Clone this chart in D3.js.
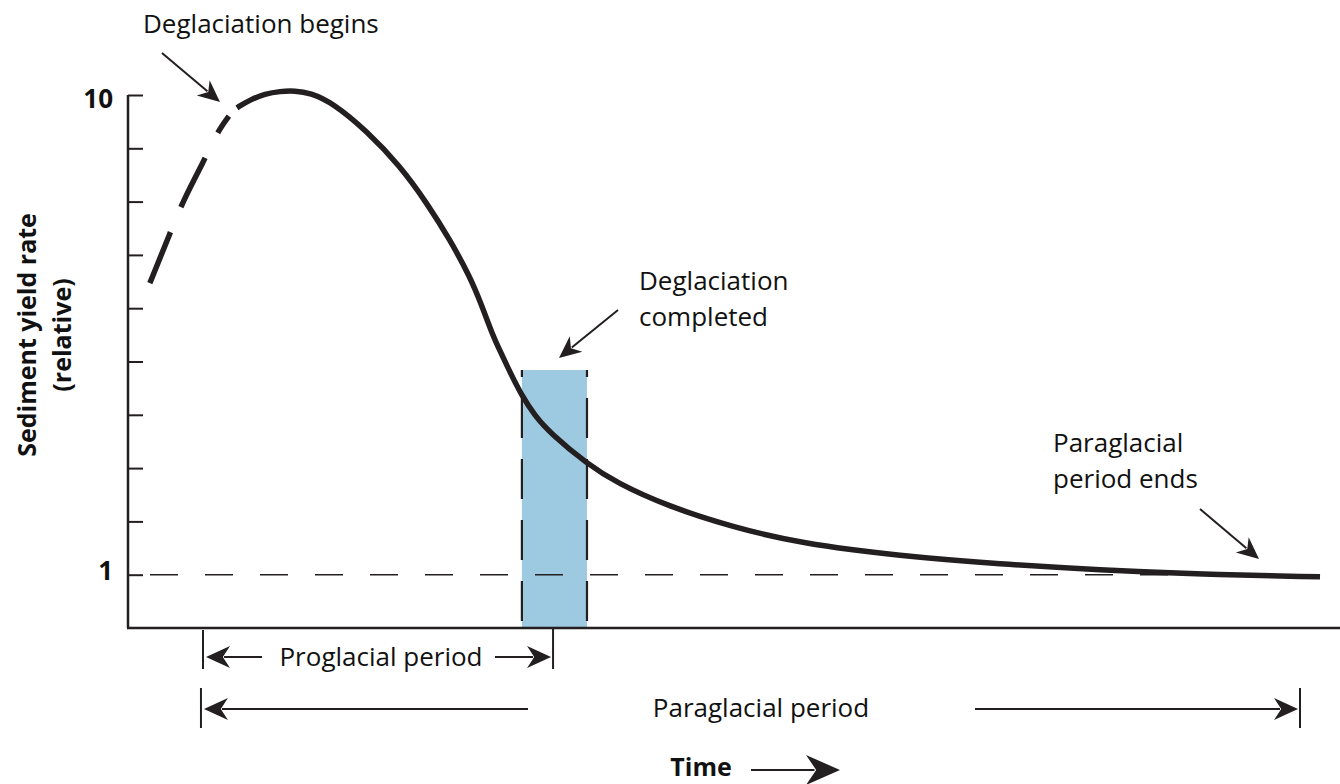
<!DOCTYPE html>
<html lang="en">
<head>
<meta charset="UTF-8">
<title>Paraglacial sediment yield</title>
<script src="https://d3js.org/d3.v7.min.js"></script>
<style>
  body { margin: 0; background: #fff; }
  svg { display: block; }
  text { font-family: "Open Sans", sans-serif; fill: #111; }
  .bold { font-weight: bold; }
</style>
</head>
<body>
<svg id="chart" width="1340" height="784"></svg>
<script>
// time in relative units (0-100), sediment yield rate (relative, 1 = background)
var riseTime  = [1.8, 3.05, 4.46, 5.53, 6.52, 7.51, 8.58];
var riseYield = [6.47, 7.17, 7.97, 8.44, 8.89, 9.36, 9.68];

var curveTime  = [8.99, 10.07, 11.3, 12.54, 13.78, 15.02, 16.91, 19.72, 22.44, 24.67, 26.57, 28.22, 29.21, 30.03, 30.69, 31.52, 32.51, 33.58, 34.82, 37.87, 40.35, 44.47, 49.92, 55.45, 63.7, 71.95, 80.2, 88.45, 98.35];
var curveYield = [9.76, 9.91, 10.02, 10.07, 10.08, 10.04, 9.85, 9.32, 8.67, 7.97, 7.28, 6.59, 6.04, 5.53, 5.2, 4.8, 4.35, 3.98, 3.66, 3.08, 2.72, 2.29, 1.89, 1.59, 1.35, 1.2, 1.09, 1.01, 0.96];

var yTicks = [1, 2, 3, 4, 5, 6, 7, 8, 9, 10];
var yTickLabels = [1, 10];
var baseline = 1;

var deglacWindow = [32.5, 37.87];   // deglaciation completed
var deglacTop = 4.84;
var proglacialSpan = [6.19, 35.07];
var paraglacialSpan = [6.02, 96.7];

var ink = "#231f20";
var svg = d3.select("#chart");

var x = d3.scaleLinear().domain([0, 100]).range([128, 1340]);
var y = d3.scaleLinear().domain([0, 10]).range([628, 95]);

// arrow head: tip at (tx,ty), pointing along angle (deg)
function head(tx, ty, angle, L, w) {
    svg.append("path")
        .attr("d", "M0,0 L" + (-L) + "," + (-w) + " L" + (-L * 0.7) + ",0 L" + (-L) + "," + w + " Z")
        .attr("transform", "translate(" + tx + "," + ty + ") rotate(" + angle + ")")
        .attr("fill", ink);
}
function arrow(x1, y1, x2, y2, L, w, sw) {
    var a = Math.atan2(y2 - y1, x2 - x1);
    svg.append("line")
        .attr("x1", x1).attr("y1", y1)
        .attr("x2", x2 - Math.cos(a) * L * 0.75).attr("y2", y2 - Math.sin(a) * L * 0.75)
        .attr("stroke", ink).attr("stroke-width", sw || 2);
    head(x2, y2, a * 180 / Math.PI, L, w);
}

// deglaciation completed window
svg.append("rect")
    .attr("x", x(deglacWindow[0]))
    .attr("y", y(deglacTop))
    .attr("width", x(deglacWindow[1]) - x(deglacWindow[0]))
    .attr("height", y(0) - y(deglacTop))
    .attr("fill", "#9ecae1");
deglacWindow.forEach(function(t) {
    svg.append("line")
        .attr("x1", x(t)).attr("x2", x(t))
        .attr("y1", y(deglacTop)).attr("y2", y(0))
        .attr("stroke", ink).attr("stroke-width", 2.2)
        .attr("stroke-dasharray", "40,21")
        .attr("stroke-dashoffset", 33);
});

// background level
svg.append("line")
    .attr("x1", 150).attr("x2", x(98.35))
    .attr("y1", y(baseline)).attr("y2", y(baseline))
    .attr("stroke", ink).attr("stroke-width", 1.6)
    .attr("stroke-dasharray", "28,27");

// axes
var yAxis = svg.append("g")
    .attr("transform", "translate(" + x(0) + ",0)")
    .call(d3.axisRight(y).tickValues(yTicks).tickSize(15).tickSizeOuter(0).tickFormat(""));
yAxis.select(".domain").attr("d", "M0," + y(10) + "V" + y(0)).attr("stroke", ink).attr("stroke-width", 2.5);
yAxis.selectAll(".tick line").attr("stroke", ink).attr("stroke-width", 2);

svg.append("line")
    .attr("x1", x(0) - 1).attr("x2", x(100))
    .attr("y1", y(0)).attr("y2", y(0))
    .attr("stroke", ink).attr("stroke-width", 2.5);

svg.selectAll(".ylab")
    .data(yTickLabels)
    .enter().append("text")
    .attr("class", "bold")
    .attr("x", 113)
    .attr("y", function(d) { return y(d) + (d === 10 ? 13 : 5); })
    .attr("text-anchor", "end")
    .style("font-size", "26px")
    .text(function(d) { return d; });

var ylab = svg.append("text")
    .attr("class", "bold")
    .attr("transform", "translate(36,335) rotate(-90)")
    .attr("text-anchor", "middle")
    .style("font-size", "25px");
ylab.append("tspan").attr("x", 0).attr("dy", 0).text("Sediment yield rate");
ylab.append("tspan").attr("x", 0).attr("dy", 35).text("(relative)");

// yield curve
var line = d3.line()
    .x(function(d) { return x(d[0]); })
    .y(function(d) { return y(d[1]); })
    .curve(d3.curveBasis);

svg.append("path")
    .datum(d3.zip(riseTime, riseYield))
    .attr("d", line)
    .attr("fill", "none")
    .attr("stroke", ink).attr("stroke-width", 5.5)
    .attr("stroke-dasharray", "55,27,55,28,20,200");

svg.append("path")
    .datum(d3.zip(curveTime, curveYield))
    .attr("d", line)
    .attr("fill", "none")
    .attr("stroke", ink).attr("stroke-width", 5.5);

// annotations
function label(tx, ty, lines, size, anchor, cls) {
    var t = svg.append("text")
        .attr("x", tx).attr("y", ty)
        .attr("text-anchor", anchor || "start")
        .style("font-size", size + "px");
    if (cls) t.attr("class", cls);
    lines.forEach(function(s, i) {
        t.append("tspan").attr("x", tx).attr("dy", i ? 36 : 0).text(s);
    });
}

label(143, 33, ["Deglaciation begins"], 26);
arrow(162, 53, 220, 102, 22, 10);

label(639, 290, ["Deglaciation", "completed"], 26);
arrow(618, 310, 559, 358, 22, 10);

label(1053, 452, ["Paraglacial", "period ends"], 26);
arrow(1200, 509, 1259, 559, 22, 10);

// proglacial period
var pg0 = x(proglacialSpan[0]), pg1 = x(proglacialSpan[1]);
svg.append("line").attr("x1", pg0).attr("x2", pg0).attr("y1", 630).attr("y2", 669).attr("stroke", ink).attr("stroke-width", 2);
svg.append("line").attr("x1", pg1).attr("x2", pg1).attr("y1", 629).attr("y2", 669).attr("stroke", ink).attr("stroke-width", 2);
arrow(262, 657, pg0 + 3, 657, 24, 11);
arrow(495, 657, pg1 - 2, 657, 24, 11);
label(381, 666, ["Proglacial period"], 26, "middle");

// paraglacial period
var pp0 = x(paraglacialSpan[0]), pp1 = x(paraglacialSpan[1]);
svg.append("line").attr("x1", pp0).attr("x2", pp0).attr("y1", 688).attr("y2", 728).attr("stroke", ink).attr("stroke-width", 2);
svg.append("line").attr("x1", pp1).attr("x2", pp1).attr("y1", 688).attr("y2", 728).attr("stroke", ink).attr("stroke-width", 2);
arrow(528, 709, pp0 + 3, 709, 24, 11);
arrow(975, 709, pp1 - 2, 709, 24, 11);
label(761, 717, ["Paraglacial period"], 26, "middle");

// time
label(701, 776, ["Time"], 25, "middle", "bold");
arrow(751, 770, 840, 770, 34, 15, 2.2);
</script>
</body>
</html>
